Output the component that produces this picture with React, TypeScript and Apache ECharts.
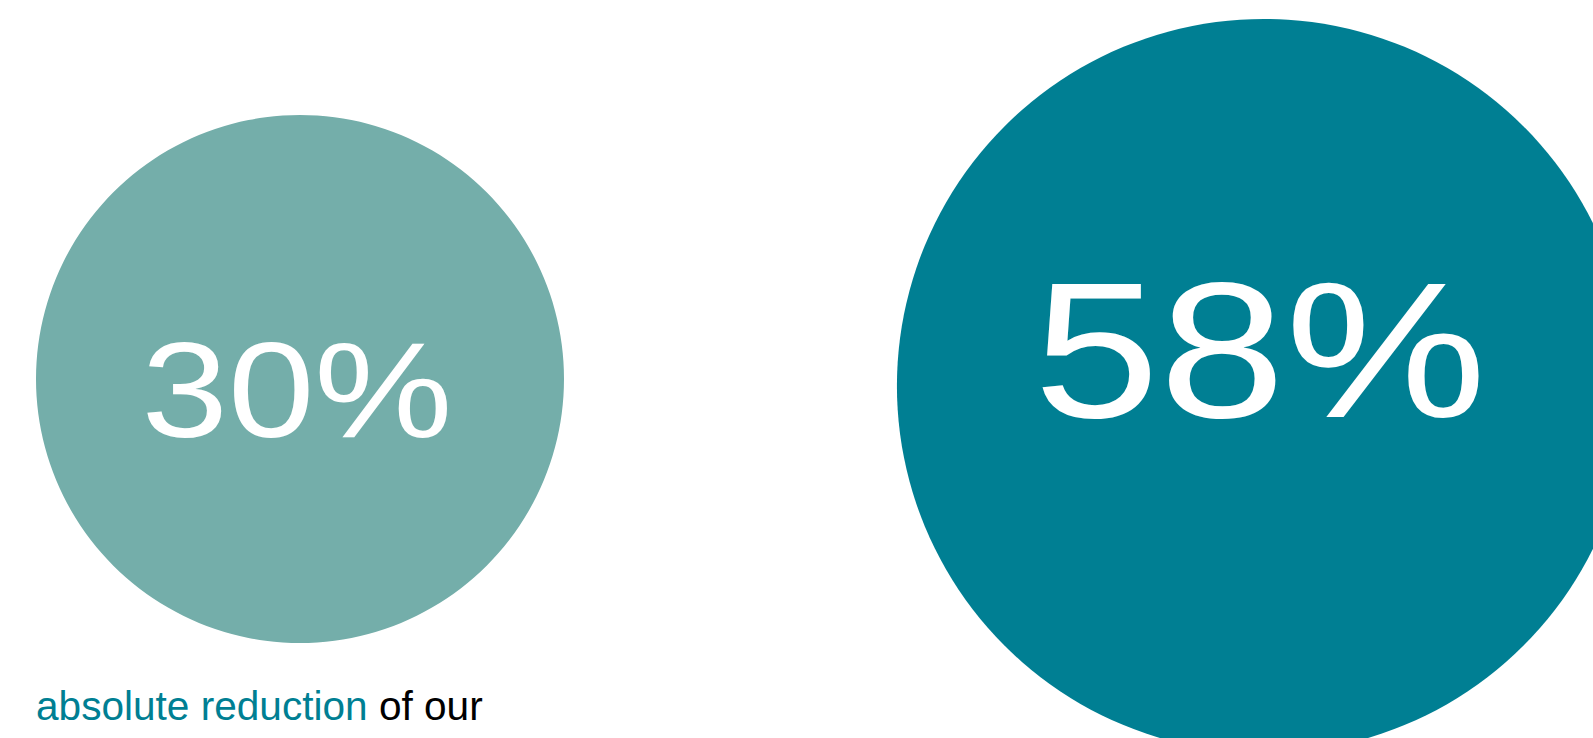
import React, { useEffect, useRef } from "react";
import * as echarts from "echarts";

const categories = ["Reduction A", "Reduction B"];
const values = [30, 58];
const valueLabels = ["30%", "58%"];
const captionHighlight = "absolute reduction";
const captionRest = "of our";

const bubbleColors = ["#74AEAA", "#007F93"];
const bubbleOffsets = [[0, 0], [2, 7]];
const labelOffsets = [[-3, 11], [-4, -35]];
const labelScale = [1, 1.025];
const labelStretch = [1.15, 1.175];
const RADIUS_PER_SQRT = 48.2;

export default function App() {
  const ref = useRef<HTMLDivElement>(null);
  useEffect(() => {
    if (!ref.current) return;
    const chart = echarts.init(ref.current, undefined, { renderer: "svg" });
    const data = categories.map((c, i) => [i, 0, values[i]]);
    chart.setOption({
      animation: false,
      backgroundColor: "#ffffff",
      grid: { left: 300, right: 331, top: 20, bottom: 0 },
      xAxis: { type: "category", data: categories, boundaryGap: false, show: false },
      yAxis: { type: "value", min: -1, max: 1, show: false },
      title: {
        text: `{a|${captionHighlight} }{b|${captionRest}}`,
        left: 36,
        top: 685,
        padding: 0,
        textStyle: {
          fontWeight: "normal",
          rich: {
            a: { color: "#007F93", fontSize: 40.6, fontWeight: "normal", fontFamily: "Liberation Sans" },
            b: { color: "#000000", fontSize: 40.6, fontWeight: "normal", fontFamily: "Liberation Sans" },
          },
        },
      },
      series: [
        {
          type: "custom",
          data,
          renderItem: (params: any, api: any) => {
            const idx = params.dataIndex;
            const p = api.coord([api.value(0), api.value(1)]);
            const cx = p[0] + bubbleOffsets[idx][0];
            const cy = p[1] + bubbleOffsets[idx][1];
            const v = api.value(2);
            const r = Math.sqrt(v) * RADIUS_PER_SQRT;
            const fs = r * 0.512 * labelScale[idx];
            const off = labelOffsets[idx];
            return {
              type: "group",
              children: [
                {
                  type: "circle",
                  shape: { cx, cy, r },
                  style: { fill: bubbleColors[idx] },
                },
                {
                  type: "text",
                  x: cx + off[0],
                  y: cy + off[1],
                  scaleX: labelStretch[idx],
                  style: {
                    text: valueLabels[idx],
                    fill: "#ffffff",
                    fontSize: fs,
                    fontFamily: "Liberation Sans",
                    align: "center",
                    verticalAlign: "middle",
                  },
                },
              ],
            };
          },
        },
      ],
    });
    return () => chart.dispose();
  }, []);
  return (
    <div
      ref={ref}
      style={{ position: "fixed", left: 0, top: 0, width: 1593, height: 738 }}
    />
  );
}
